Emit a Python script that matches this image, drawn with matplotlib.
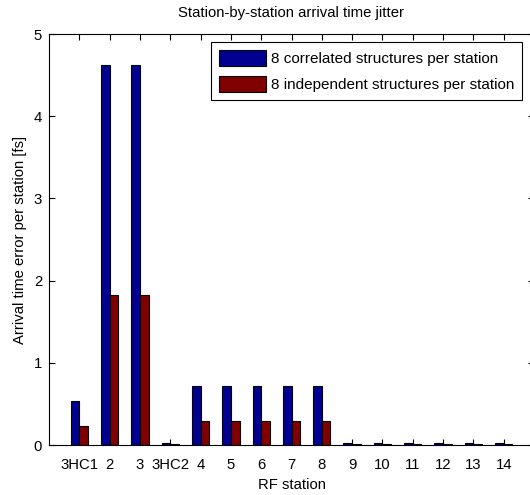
import matplotlib.pyplot as plt
import numpy as np

plt.rcParams['font.family'] = ['Liberation Sans', 'DejaVu Sans']

stations = ['3HC1', '2', '3', '3HC2', '4', '5', '6', '7', '8',
            '9', '10', '11', '12', '13', '14']
correlated = [0.53, 4.63, 4.63, 0.02, 0.72, 0.72, 0.72, 0.72, 0.72,
              0.02, 0.02, 0.02, 0.02, 0.02, 0.02]
independent = [0.23, 1.83, 1.83, 0.01, 0.29, 0.29, 0.29, 0.29, 0.29,
               0.01, 0.01, 0.01, 0.01, 0.01, 0.01]

fig = plt.figure(figsize=(5.3, 4.95), dpi=100)
ax = fig.add_axes([0.0925, 0.101, 0.915, 0.830])

x = np.arange(1, len(stations) + 1)
w = 0.286
ax.bar(x - w / 2, correlated, w, color='#000090', edgecolor='black',
       linewidth=0.8, label='8 correlated structures per station', zorder=2)
ax.bar(x + w / 2, independent, w, color='#800000', edgecolor='black',
       linewidth=0.8, label='8 independent structures per station', zorder=2)

ax.set_xlim(0, 16)
ax.set_ylim(0, 5)
ax.set_xticks(x)
ax.set_xticklabels(stations)
ax.set_yticks([0, 1, 2, 3, 4, 5])
ax.tick_params(direction='in', length=4, width=0.8, top=True, right=True,
               labelsize=10.75, zorder=3)
ax.tick_params(axis='x', pad=9)
ax.tick_params(axis='y', pad=5)
for spine in ax.spines.values():
    spine.set_linewidth(0.8)
    spine.set_zorder(3)

ax.set_title('Station-by-station arrival time jitter', fontsize=10.75, pad=12)
ax.set_xlabel('RF station', fontsize=10.75, labelpad=5)
ax.set_ylabel('Arrival time error per station [fs]', fontsize=10.75,
              labelpad=5)

leg = ax.legend(loc='upper right', bbox_to_anchor=(0.975, 0.98),
                fontsize=11, fancybox=False, framealpha=1, edgecolor='black',
                handlelength=3.1, handleheight=1.2, borderpad=0.5,
                handletextpad=0.3, labelspacing=0.65, borderaxespad=0)
leg.get_frame().set_linewidth(0.8)

fig.savefig('out.png', dpi=100)
